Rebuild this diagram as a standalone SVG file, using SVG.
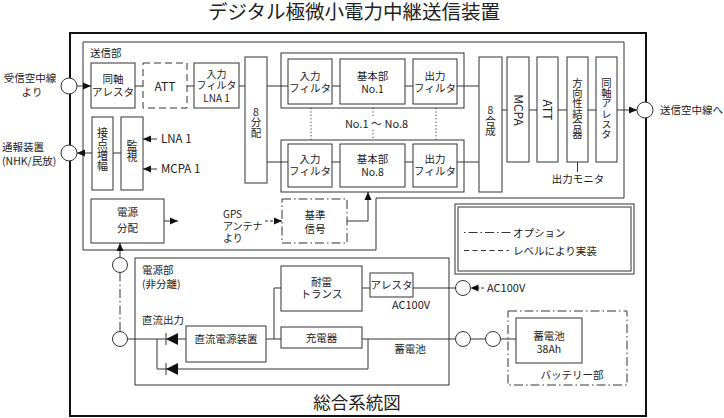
<svg xmlns="http://www.w3.org/2000/svg" width="724" height="418" viewBox="0 0 724 418">
<defs>
<style>
.b{fill:none;stroke:#333;stroke-width:1}
.ci{fill:#fff;stroke:#333;stroke-width:1}
.ln{fill:none;stroke:#333;stroke-width:1}
.t{font-family:"Noto Sans CJK JP","Noto Sans",sans-serif;font-size:10.5px;fill:#222}
.s{font-size:10px}
.vt{writing-mode:vertical-rl;text-orientation:upright;text-anchor:middle}
.m{text-anchor:middle}
.dash{stroke-dasharray:7,4}
.dd{stroke-dasharray:9,3,1.5,3}
.dot{stroke-dasharray:1.2,2.2}
</style>
<marker id="ah" viewBox="0 0 8 8" refX="8" refY="4" markerWidth="8" markerHeight="8" orient="auto" markerUnits="userSpaceOnUse"><path d="M0,0.5 L8,4 L0,7.5 z" fill="#111"/></marker>
</defs>
<rect width="724" height="418" fill="#fff"/>
<text class="t m" x="354" y="18.5" style="font-size:19.5px">デジタル極微小電力中継送信装置</text>
<rect x="70" y="33" width="576" height="383" fill="none" stroke="#111" stroke-width="2"/>
<text class="t m" x="357" y="409" style="font-size:17.5px">総合系統図</text>

<g id="sousinbu">
<polygon class="b" points="83,42 624,42 624,198 376,198 376,250 83,250"/>
<text class="t" x="90" y="56.5">送信部</text>
</g>

<g id="in-arrester"><rect class="b" x="91" y="63" width="44" height="45"/><text class="t m" x="113" y="83">同軸</text><text class="t m" x="113" y="96">アレスタ</text></g>
<g id="in-att"><rect class="b dash" x="143" y="63" width="44" height="45"/><text class="t m" x="165" y="90.5" style="font-size:12px">ATT</text></g>
<g id="in-filter-lna"><rect class="b" x="194" y="63" width="45" height="45"/><text class="t s m" x="216.5" y="77.5">入力</text><text class="t s m" x="216.5" y="89">フィルタ</text><text class="t s m" x="216.5" y="102">LNA 1</text></g>
<g id="div8"><rect class="b" x="245" y="57" width="22" height="126"/><text class="t vt" x="256" y="122.5" style="font-size:10.5px">8分配</text></g>

<g id="chain1">
<rect class="b" x="281" y="53" width="183" height="55"/>
<rect class="b" x="288" y="59" width="44" height="45"/><text class="t m" x="310" y="80">入力</text><text class="t m" x="310" y="92">フィルタ</text>
<rect class="b" x="340" y="59" width="65" height="45"/><text class="t m" x="372.5" y="80">基本部</text><text class="t m" x="372.5" y="93">No.1</text>
<rect class="b" x="413" y="59" width="44" height="45"/><text class="t m" x="435" y="80">出力</text><text class="t m" x="435" y="92">フィルタ</text>
</g>
<g id="chain8">
<rect class="b" x="281" y="140" width="183" height="52"/>
<rect class="b" x="288" y="144" width="44" height="43"/><text class="t m" x="310" y="163">入力</text><text class="t m" x="310" y="175">フィルタ</text>
<rect class="b" x="340" y="144" width="65" height="43"/><text class="t m" x="372.5" y="163">基本部</text><text class="t m" x="372.5" y="176">No.8</text>
<rect class="b" x="413" y="144" width="44" height="43"/><text class="t m" x="435" y="163">出力</text><text class="t m" x="435" y="175">フィルタ</text>
</g>
<g id="range-label">
<line class="ln dot" x1="311" y1="108" x2="311" y2="140"/>
<line class="ln dot" x1="373" y1="108" x2="373" y2="118"/>
<line class="ln dot" x1="373" y1="130" x2="373" y2="140"/>
<line class="ln dot" x1="436" y1="108" x2="436" y2="140"/>
<text class="t m" x="376.5" y="128" style="font-size:11px">No.1 ～ No.8</text>
</g>

<g id="comb8"><rect class="b" x="479" y="57" width="23" height="135"/><text class="t vt" x="490.5" y="121" style="font-size:10.5px">8合成</text></g>
<g id="mcpa"><rect class="b" x="507" y="57" width="22" height="105"/><text class="t m" transform="translate(518,110) rotate(90)" y="4.3" style="font-size:12px">MCPA</text></g>
<g id="out-att"><rect class="b" x="537" y="57" width="21" height="105"/><text class="t m" transform="translate(547.5,110) rotate(90)" y="4.3" style="font-size:12px">ATT</text></g>
<g id="coupler"><rect class="b" x="567" y="57" width="21" height="105"/><text class="t vt" x="577.5" y="108.5" style="font-size:10.3px">方向性結合器</text></g>
<g id="out-arrester"><rect class="b" x="596" y="57" width="21" height="105"/><text class="t vt" x="606.5" y="108.5" style="font-size:10.3px">同軸アレスタ</text></g>
<g id="monitor-label"><text class="t m" x="578" y="183">出力モニタ</text></g>

<g id="contact-amp"><rect class="b" x="92" y="117" width="21" height="73"/><text class="t vt" x="102.5" y="149.5" style="font-size:11px">接点増幅</text></g>
<g id="monitor"><rect class="b" x="121" y="117" width="22" height="73"/><text class="t vt" x="132" y="151.5" style="font-size:11px">監視</text></g>
<g id="lna-mcpa-labels"><text class="t" x="161" y="143" style="font-size:11.5px">LNA 1</text><text class="t" x="161" y="173" style="font-size:11.5px">MCPA 1</text></g>
<g id="power-dist"><rect class="b" x="91" y="199" width="73" height="44"/><text class="t m" x="127.5" y="216">電源</text><text class="t m" x="127.5" y="232">分配</text></g>
<g id="gps-label"><text class="t s" x="223" y="217.5">GPS</text><text class="t s" x="223" y="229.5">アンテナ</text><text class="t s" x="223" y="241.5">より</text></g>
<g id="ref-signal"><rect class="b dd" x="282" y="199" width="65" height="44"/><text class="t m" x="315" y="219">基準</text><text class="t m" x="315" y="233">信号</text></g>

<g id="legend">
<rect class="b" x="455" y="204" width="179" height="70" stroke="#555"/>
<rect class="b" x="458" y="207" width="173" height="64" stroke="#555"/>
<line class="ln" x1="464" y1="232.5" x2="512" y2="232.5" stroke-dasharray="1.5,3,9,3"/>
<text class="t" x="513" y="236.5">オプション</text>
<line class="ln" x1="464" y1="250.5" x2="509" y2="250.5" stroke-dasharray="5,3.5"/>
<text class="t" x="513" y="254.5">レベルにより実装</text>
</g>

<g id="labels-left">
<text class="t m" x="30" y="82">受信空中線</text><text class="t m" x="32" y="96">より</text>
<text class="t" x="2" y="151">通報装置</text><text class="t" x="2" y="165">(NHK/民放)</text>
<text class="t" x="660" y="114">送信空中線へ</text>
</g>

<g id="power-unit">
<rect class="b" x="135" y="258" width="314" height="127"/>
<text class="t" x="142" y="274">電源部</text><text class="t" x="142" y="288">(非分離)</text>
<text class="t" x="142" y="324">直流出力</text>
</g>
<g id="dc-supply"><rect class="b" x="186" y="326" width="80" height="36"/><text class="t m" x="226" y="343">直流電源装置</text></g>
<g id="charger"><rect class="b" x="281" y="327" width="81" height="21"/><text class="t m" x="321.5" y="341.5">充電器</text></g>
<g id="transformer"><rect class="b" x="281" y="266" width="81" height="45"/><text class="t m" x="321.5" y="286">耐雷</text><text class="t m" x="321.5" y="298">トランス</text></g>
<g id="ac-arrester"><rect class="b" x="370" y="273" width="43" height="24"/><text class="t m" x="391.5" y="289">アレスタ</text><text class="t m" x="411" y="309" style="font-size:11px">AC100V</text></g>
<g id="ac-in-label"><text class="t" x="487" y="292" style="font-size:11px">AC100V</text></g>
<g id="batt-label"><text class="t m" x="410" y="353">蓄電池</text></g>
<g id="battery-unit"><rect class="b dd" x="508" y="311" width="119" height="74"/><text class="t m" x="572" y="379">バッテリー部</text></g>
<g id="battery"><rect class="b" x="516" y="318" width="66" height="45"/><text class="t m" x="549" y="340">蓄電池</text><text class="t m" x="549" y="353">38Ah</text></g>

<g id="connectors">
<line class="ln" x1="77" y1="86" x2="91" y2="86" marker-end="url(#ah)"/>
<line class="ln" x1="135" y1="86" x2="143" y2="86"/>
<line class="ln" x1="187" y1="86" x2="194" y2="86"/>
<line class="ln" x1="239" y1="86" x2="245" y2="86"/>
<line class="ln" x1="267" y1="86" x2="288" y2="86"/>
<line class="ln" x1="332" y1="86" x2="340" y2="86"/>
<line class="ln" x1="405" y1="86" x2="413" y2="86"/>
<line class="ln" x1="457" y1="86" x2="479" y2="86"/>
<line class="ln" x1="267" y1="162" x2="288" y2="162"/>
<line class="ln" x1="332" y1="162" x2="340" y2="162"/>
<line class="ln" x1="405" y1="162" x2="413" y2="162"/>
<line class="ln" x1="457" y1="162" x2="479" y2="162"/>
<line class="ln" x1="502" y1="110" x2="507" y2="110"/>
<line class="ln" x1="529" y1="110" x2="537" y2="110"/>
<line class="ln" x1="558" y1="110" x2="567" y2="110"/>
<line class="ln" x1="588" y1="110" x2="596" y2="110"/>
<line class="ln" x1="617" y1="110" x2="637" y2="110" marker-end="url(#ah)"/>
<line class="ln" x1="577.5" y1="162" x2="577.5" y2="172"/>
<line class="ln" x1="92" y1="153" x2="77" y2="153" marker-end="url(#ah)"/>
<line class="ln" x1="113" y1="153" x2="121" y2="153"/>
<line class="ln" x1="157" y1="139" x2="143" y2="139" marker-end="url(#ah)"/>
<line class="ln" x1="157" y1="169" x2="143" y2="169" marker-end="url(#ah)"/>
<line class="ln" x1="164" y1="221" x2="178" y2="221" marker-end="url(#ah)"/>
<line class="ln" x1="265" y1="221" x2="282" y2="221" stroke-dasharray="3,2" marker-end="url(#ah)"/>
<polyline class="ln" points="347,221 368,221 368,192" marker-end="url(#ah)"/>
<line class="ln" x1="120" y1="257.5" x2="120" y2="243" marker-end="url(#ah)"/>
<line class="ln dd" x1="120" y1="272.5" x2="120" y2="331.5"/>
<line class="ln" x1="127.5" y1="339" x2="186" y2="339"/>
<polyline class="ln" points="157,339 157,369 368,369 368,339"/>
<line class="ln" x1="266" y1="339" x2="281" y2="339"/>
<polyline class="ln" points="274,339 274,288 281,288"/>
<line class="ln" x1="362" y1="288" x2="370" y2="288"/>
<line class="ln" x1="413" y1="288" x2="455.5" y2="288"/>
<line class="ln" x1="484" y1="288" x2="470.5" y2="288" stroke-dasharray="3,1.5" marker-end="url(#ah)"/>
<line class="ln" x1="362" y1="339" x2="455.5" y2="339"/>
<line class="ln" x1="470.5" y1="339" x2="485.5" y2="339"/>
<line class="ln" x1="500.5" y1="339" x2="516" y2="339"/>
<polygon points="166,339 178,333 178,345" fill="#111"/>
<line class="ln" x1="166" y1="333" x2="166" y2="345"/>
<polygon points="166,369 178,363 178,375" fill="#111"/>
<line class="ln" x1="166" y1="363" x2="166" y2="375"/>
</g>

<g id="ports">
<circle class="ci" cx="69" cy="86" r="8"/>
<circle class="ci" cx="69" cy="153" r="8"/>
<circle class="ci" cx="645" cy="110" r="8"/>
<circle class="ci" cx="120" cy="265" r="7.5"/>
<circle class="ci" cx="120" cy="339" r="7.5"/>
<circle class="ci" cx="463" cy="288" r="7.5"/>
<circle class="ci" cx="463" cy="339" r="7.5"/>
<circle class="ci" cx="493" cy="339" r="7.5"/>
</g>
</svg>
